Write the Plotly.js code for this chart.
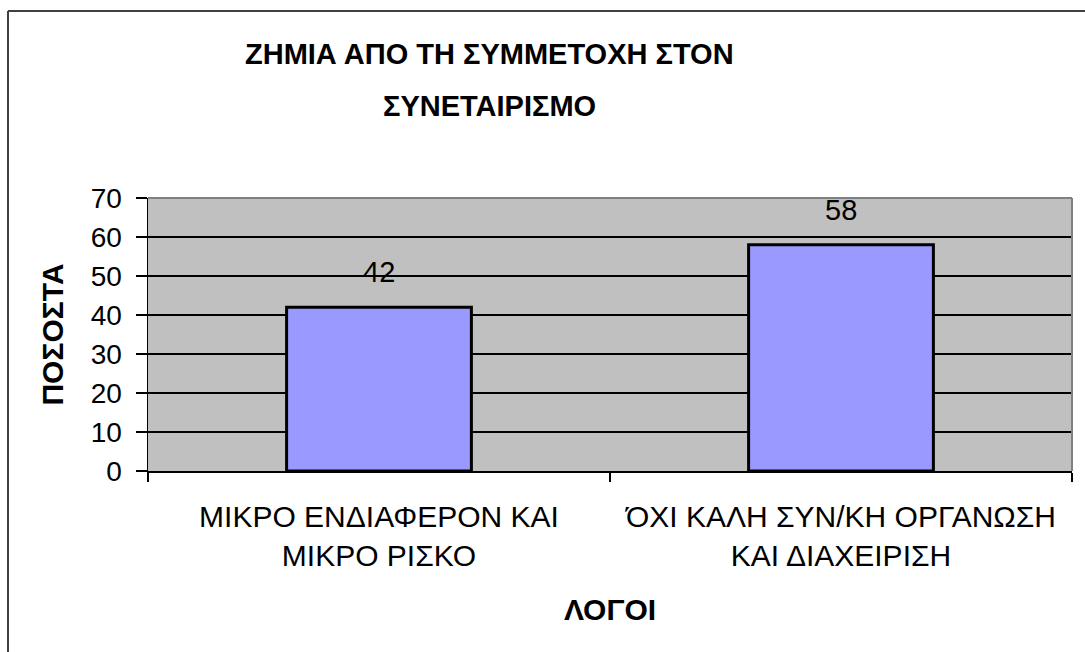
<!DOCTYPE html>
<html>
<head>
<meta charset="utf-8">
<script src="https://cdn.plot.ly/plotly-3.0.1.min.js"></script>
<style>html,body{margin:0;padding:0;background:#fff;}#chart{width:1085px;height:652px;}</style>
</head>
<body>
<div id="chart"></div>
<script>
const categories = [
  "ΜΙΚΡΟ ΕΝΔΙΑΦΕΡΟΝ ΚΑΙ<br>ΜΙΚΡΟ ΡΙΣΚΟ",
  "ΌΧΙ ΚΑΛΗ ΣΥΝ/ΚΗ ΟΡΓΑΝΩΣΗ<br>ΚΑΙ ΔΙΑΧΕΙΡΙΣΗ"
];
const values = [42, 58];
const titleLines = ["ΖΗΜΙΑ ΑΠΟ ΤΗ ΣΥΜΜΕΤΟΧΗ ΣΤΟΝ", "ΣΥΝΕΤΑΙΡΙΣΜΟ"];
const yTitle = "ΠΟΣΟΣΤΑ";
const xTitle = "ΛΟΓΟΙ";
const yTicks = [0, 10, 20, 30, 40, 50, 60, 70];

const FONT = "Liberation Sans, Arial, sans-serif";

const trace = {
  type: "bar",
  x: categories,
  y: values,
  marker: { color: "#9999FF", line: { color: "#000000", width: 3 } },
  hoverinfo: "skip"
};

const annotations = values.map((v, i) => ({
  x: categories[i], y: v, xref: "x", yref: "y",
  text: String(v), showarrow: false, yanchor: "middle", yshift: 35,
  font: { family: FONT, size: 29, color: "#000" }
}));
annotations.push(
  { xref: "paper", yref: "paper", x: (489 - 148) / 924, y: (471 - 54) / 273,
    text: "<b>" + titleLines[0] + "</b>", showarrow: false, xanchor: "center", yanchor: "middle",
    font: { family: FONT, size: 29, color: "#000" } },
  { xref: "paper", yref: "paper", x: (489 - 148) / 924, y: (471 - 106) / 273,
    text: "<b>" + titleLines[1] + "</b>", showarrow: false, xanchor: "center", yanchor: "middle",
    font: { family: FONT, size: 29, color: "#000" } }
);

const layout = {
  width: 1085, height: 652,
  margin: { l: 148, r: 13, t: 198, b: 181, pad: 0 },
  paper_bgcolor: "#ffffff",
  plot_bgcolor: "#C0C0C0",
  bargap: 0.6,
  showlegend: false,
  font: { family: FONT, color: "#000" },
  xaxis: {
    type: "category",
    tickson: "boundaries",
    ticks: "outside", ticklen: 9, tickcolor: "#000", tickwidth: 1.5,
    showline: true, linecolor: "#000", linewidth: 1.5,
    showgrid: false,
    tickfont: { family: FONT, size: 30, color: "#000" },
    ticklabelstandoff: 18,
    title: { text: "<b>" + xTitle + "</b>", font: { family: FONT, size: 30, color: "#000" }, standoff: 28 },
    automargin: false
  },
  yaxis: {
    range: [0, 70],
    tickvals: yTicks,
    ticks: "outside", ticklen: 11, tickcolor: "#000", tickwidth: 1.5,
    showline: true, linecolor: "#000", linewidth: 1.5,
    showgrid: true, gridcolor: "#000", gridwidth: 1.5,
    zeroline: false,
    tickfont: { family: FONT, size: 28, color: "#000" },
    ticklabelstandoff: 8,
    title: { text: "<b>" + yTitle + "</b>", font: { family: FONT, size: 30, color: "#000" }, standoff: 18 },
    automargin: false
  },
  annotations: annotations,
  shapes: [
    { type: "line", xref: "paper", yref: "paper", x0: 0, x1: 1, y0: 1, y1: 1,
      line: { color: "#808080", width: 2 }, layer: "above" },
    { type: "line", xref: "paper", yref: "paper", x0: 1, x1: 1, y0: 0, y1: 1,
      line: { color: "#808080", width: 2 }, layer: "above" },
    { type: "line", xref: "paper", yref: "paper", x0: (8 - 148) / 924, x1: (8 - 148) / 924,
      y0: (471 - 11) / 273, y1: (471 - 660) / 273, line: { color: "#404040", width: 2 } },
    { type: "line", xref: "paper", yref: "paper", x0: (8 - 148) / 924, x1: (1090 - 148) / 924,
      y0: (471 - 11) / 273, y1: (471 - 11) / 273, line: { color: "#404040", width: 2 } }
  ]
};

Plotly.newPlot("chart", [trace], layout, { displayModeBar: false, staticPlot: true });
</script>
</body>
</html>
